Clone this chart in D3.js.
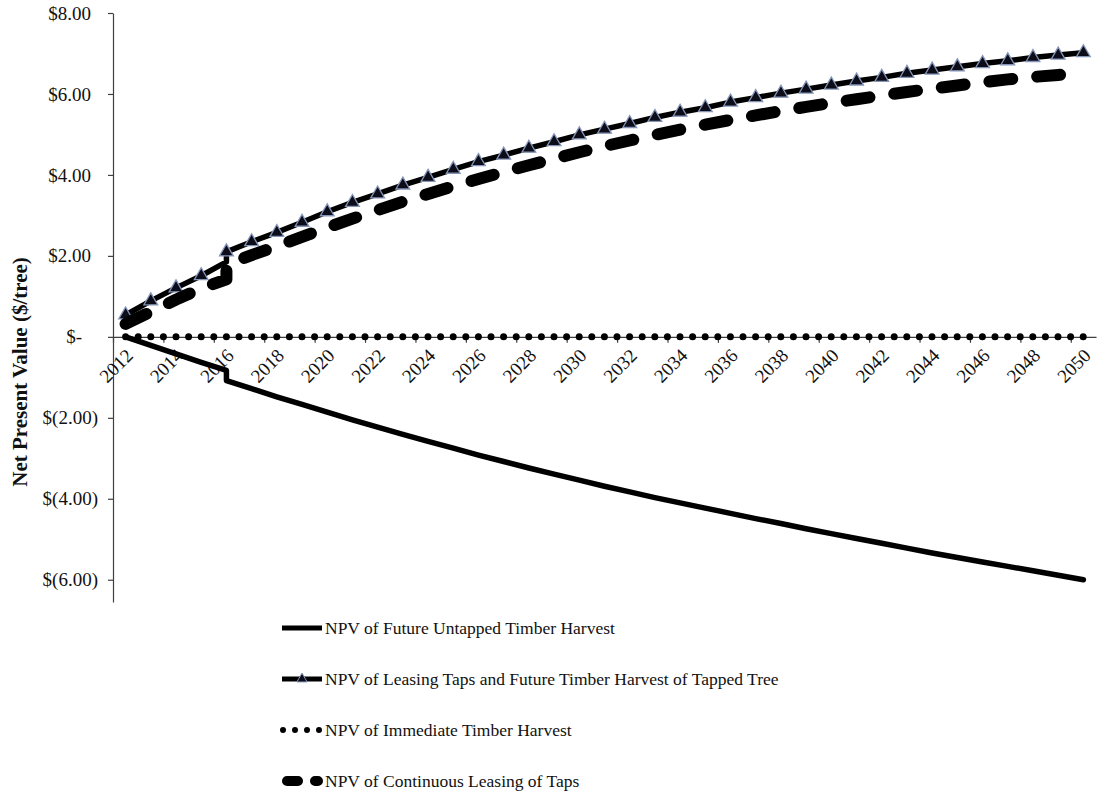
<!DOCTYPE html>
<html>
<head>
<meta charset="utf-8">
<script src="https://cdnjs.cloudflare.com/ajax/libs/d3/7.8.5/d3.min.js"></script>
<style>
  body { margin: 0; background: #fff; }
  svg { display: block; font-family: "Liberation Serif", "Times New Roman", serif; }
  .axis path, .axis line { stroke: #404040; stroke-width: 1.2; }
  .axis text { fill: #111; font-size: 19px; font-family: "Liberation Serif", serif; }
  .legend text { fill: #111; font-size: 17.5px; }
</style>
</head>
<body>
<svg width="1099" height="797"></svg>
<script>

// 2016 appears twice: the step in the series happens on that year
var years = [2012, 2013, 2014, 2015, 2016, 2016, 2017, 2018, 2019, 2020,
             2021, 2022, 2023, 2024, 2025, 2026, 2027, 2028, 2029, 2030,
             2031, 2032, 2033, 2034, 2035, 2036, 2037, 2038, 2039, 2040,
             2041, 2042, 2043, 2044, 2045, 2046, 2047, 2048, 2049, 2050];

var labelYears = [2012, 2014, 2016, 2018, 2020, 2022, 2024, 2026, 2028, 2030,
                  2032, 2034, 2036, 2038, 2040, 2042, 2044, 2046, 2048, 2050];

var yTicks = [8, 6, 4, 2, 0, -2, -4, -6];

var untapped = [0, -0.21, -0.42, -0.63, -0.83, -1.08, -1.28, -1.48, -1.67, -1.86,
                -2.05, -2.23, -2.41, -2.58, -2.75, -2.92, -3.08, -3.24, -3.39, -3.54,
                -3.69, -3.83, -3.97, -4.10, -4.23, -4.36, -4.49, -4.61, -4.74, -4.86,
                -4.98, -5.10, -5.22, -5.34, -5.45, -5.56, -5.67, -5.78, -5.89, -6.00];

var leasingTimber = [0.54, 0.89, 1.21, 1.51, 1.85, 2.10, 2.35, 2.58, 2.83, 3.09,
                     3.32, 3.53, 3.75, 3.94, 4.14, 4.33, 4.49, 4.66, 4.82, 4.99,
                     5.13, 5.27, 5.42, 5.55, 5.66, 5.80, 5.91, 6.02, 6.12, 6.22,
                     6.32, 6.41, 6.51, 6.59, 6.67, 6.75, 6.82, 6.90, 6.96, 7.02];

var immediate = [0, 0, 0, 0, 0, 0, 0, 0, 0, 0,
                 0, 0, 0, 0, 0, 0, 0, 0, 0, 0,
                 0, 0, 0, 0, 0, 0, 0, 0, 0, 0,
                 0, 0, 0, 0, 0, 0, 0, 0, 0, 0];

var continuous = [0.32, 0.62, 0.92, 1.20, 1.42, 1.78, 2.02, 2.24, 2.47, 2.70,
                  2.92, 3.13, 3.34, 3.53, 3.72, 3.90, 4.07, 4.24, 4.40, 4.56,
                  4.71, 4.85, 4.99, 5.12, 5.24, 5.36, 5.47, 5.58, 5.68, 5.78,
                  5.87, 5.96, 6.05, 6.13, 6.21, 6.29, 6.36, 6.42, 6.47, 6.52];

var seriesNames = ["NPV of Future Untapped Timber Harvest",
                   "NPV of Leasing Taps and Future Timber Harvest of Tapped Tree",
                   "NPV of Immediate Timber Harvest",
                   "NPV of Continuous Leasing of Taps"];

var svg = d3.select("svg");

// category axis: each year is a slot, ticks sit on slot edges
var x = d3.scaleLinear()
        .domain([2011.5, 2050.5])
        .range([113, 1096]);

var y = d3.scaleLinear()
        .domain([-6.55, 8])
        .range([602, 13]);

var fmtMoney = function (v) {
    if (v === 0) return "$-";
    if (v > 0) return "$" + v.toFixed(2);
    return "$(" + (-v).toFixed(2) + ")";
};

// y axis
var yAxisG = svg.append("g")
        .attr("class", "axis")
        .attr("transform", "translate(113,0)")
        .call(d3.axisLeft(y).tickValues(yTicks).tickSize(5).tickSizeOuter(0).tickPadding(10).tickFormat(fmtMoney));
yAxisG.selectAll("text")
        .attr("x", function (d) { return d === 0 ? -31 : (d > 0 ? -22 : -15); });

// x axis tick marks at slot edges
svg.append("g")
        .attr("class", "axis")
        .attr("transform", "translate(0," + y(0) + ")")
        .call(d3.axisBottom(x)
                .tickValues(labelYears.map(function (d) { return d - 0.5; }))
                .tickSize(6).tickSizeOuter(0).tickFormat(""));

// x labels at slot centres, rotated
var xLabels = svg.append("g")
        .attr("class", "axis")
        .attr("transform", "translate(0," + y(0) + ")")
        .call(d3.axisBottom(x).tickValues(labelYears).tickSize(0).tickFormat(d3.format("d")));
xLabels.select(".domain").remove();
xLabels.selectAll("text")
        .attr("x", 0).attr("y", 0).attr("dy", null)
        .style("text-anchor", "end")
        .attr("transform", "translate(8,20) rotate(-45)");

// y axis title
svg.append("text")
        .attr("transform", "translate(27,372) rotate(-90)")
        .style("text-anchor", "middle")
        .style("font-weight", "bold")
        .style("font-size", "21px")
        .style("fill", "#111")
        .text("Net Present Value ($/tree)");

var line = d3.line()
        .x(function (d, i) { return x(years[i]); })
        .y(function (d) { return y(d); });

// untapped timber harvest
svg.append("path")
        .datum(untapped)
        .attr("d", line)
        .attr("fill", "none")
        .attr("stroke", "#000")
        .attr("stroke-width", 5.5)
        .attr("stroke-linejoin", "round")
        .attr("stroke-linecap", "round");

// leasing + timber of tapped tree, with triangle markers
svg.append("path")
        .datum(leasingTimber)
        .attr("d", line)
        .attr("fill", "none")
        .attr("stroke", "#000")
        .attr("stroke-width", 5.5)
        .attr("stroke-linejoin", "round");

var tri = d3.symbol().type(d3.symbolTriangle).size(82);

svg.append("g").selectAll("path")
        .data(leasingTimber.filter(function (d, i) { return years[i] !== years[i + 1]; }))
        .enter().append("path")
        .attr("d", tri)
        .attr("transform", function (d) {
            var i = leasingTimber.lastIndexOf(d);
            return "translate(" + x(years[i]) + "," + y(d) + ")";
        })
        .attr("fill", "#0d0d1a")
        .attr("stroke", "#8595b8")
        .attr("stroke-width", 1.3);

// immediate harvest, round dots on the zero line
svg.append("path")
        .datum(immediate)
        .attr("d", line)
        .attr("fill", "none")
        .attr("stroke", "#000")
        .attr("stroke-width", 7)
        .attr("stroke-linecap", "round")
        .attr("stroke-dasharray", "0,12.6");

// continuous leasing, heavy dashes
svg.append("path")
        .datum(continuous)
        .attr("d", line)
        .attr("fill", "none")
        .attr("stroke", "#000")
        .attr("stroke-width", 12)
        .attr("stroke-linecap", "round")
        .attr("stroke-linejoin", "round")
        .attr("stroke-dasharray", "23,25");

// legend
var legend = svg.append("g").attr("class", "legend");
var rowY = [628, 679, 730, 781];

seriesNames.forEach(function (name, i) {
    var row = legend.append("g").attr("transform", "translate(0," + rowY[i] + ")");
    if (i === 0 || i === 1) {
        row.append("line")
                .attr("x1", 282).attr("x2", 322)
                .attr("stroke", "#000").attr("stroke-width", 5);
    }
    if (i === 1) {
        row.append("path")
                .attr("d", d3.symbol().type(d3.symbolTriangle).size(45))
                .attr("transform", "translate(302,0)")
                .attr("fill", "#0d0d1a")
                .attr("stroke", "#8595b8")
                .attr("stroke-width", 1);
    }
    if (i === 2) {
        row.append("line")
                .attr("x1", 283).attr("x2", 320)
                .attr("stroke", "#000").attr("stroke-width", 6)
                .attr("stroke-linecap", "round")
                .attr("stroke-dasharray", "0,12");
    }
    if (i === 3) {
        row.append("line")
                .attr("x1", 287).attr("x2", 318)
                .attr("stroke", "#000").attr("stroke-width", 10)
                .attr("stroke-linecap", "round")
                .attr("stroke-dasharray", "11,17");
    }
    row.append("text")
            .attr("x", 325)
            .attr("dy", "0.36em")
            .text(name);
});

</script>
</body>
</html>
